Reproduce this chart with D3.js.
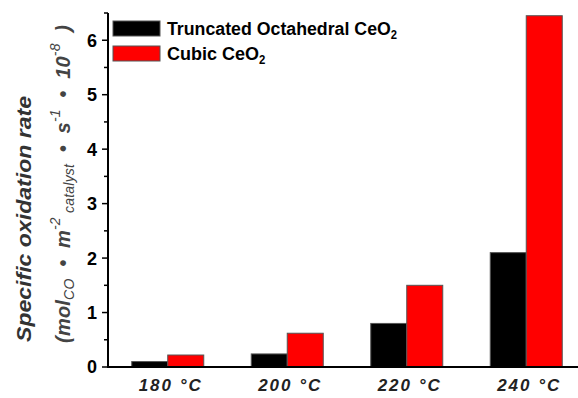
<!DOCTYPE html>
<html>
<head>
<meta charset="utf-8">
<script src="https://cdn.jsdelivr.net/npm/d3@7"></script>
<style>
  body { margin: 0; background: #fff; }
  svg { display: block; font-family: "Liberation Sans", Arial, sans-serif; }
</style>
</head>
<body>
<svg id="chart"></svg>
<script>
const categories = ["180 °C", "200 °C", "220 °C", "240 °C"];
const seriesNames = ["Truncated Octahedral CeO", "Cubic CeO"];
const seriesColors = ["#000000", "#ff0000"];
const truncated = [0.10, 0.24, 0.80, 2.10];
const cubic = [0.22, 0.62, 1.50, 6.45];
const yTicks = [0, 1, 2, 3, 4, 5, 6];

const w = 578;
const h = 398;
const padLeft = 108;
const padBottom = 367;
const padTop = 13;

const svg = d3.select("#chart").attr("width", w).attr("height", h);

const x = d3.scaleBand().domain(categories).range([padLeft, padLeft + 4 * 119.5]).paddingInner(0).paddingOuter(0);
const y = d3.scaleLinear().domain([0, 6.5]).range([padBottom, padTop]);
const barW = 36;

const rows = categories.map((c, i) => ({ cat: c, vals: [truncated[i], cubic[i]] }));

// bars
rows.forEach((r) => {
  r.vals.forEach((v, k) => {
    const cx = x(r.cat) + x.bandwidth() / 2;
    svg.append("rect")
      .attr("x", cx - barW + k * barW)
      .attr("y", y(v))
      .attr("width", barW)
      .attr("height", y(0) - y(v))
      .attr("fill", seriesColors[k])
      .attr("stroke", "#555")
      .attr("stroke-width", 1);
  });
});

// y axis
const yAxis = svg.append("g").attr("transform", `translate(${padLeft},0)`);
yAxis.append("line").attr("x1", 0).attr("x2", 0).attr("y1", padTop).attr("y2", padBottom)
  .attr("stroke", "#000").attr("stroke-width", 2);
yAxis.selectAll(".maj").data(yTicks).enter().append("line")
  .attr("x1", -6).attr("x2", 0).attr("y1", (d) => y(d)).attr("y2", (d) => y(d))
  .attr("stroke", "#000").attr("stroke-width", 1.5);
yAxis.selectAll(".min").data(yTicks.map((d) => d + 0.5)).enter().append("line")
  .attr("x1", -4).attr("x2", 0).attr("y1", (d) => y(d)).attr("y2", (d) => y(d))
  .attr("stroke", "#000").attr("stroke-width", 1.5);
yAxis.selectAll(".lab").data(yTicks).enter().append("text")
  .attr("x", -11).attr("y", (d) => y(d)).attr("dy", "0.36em")
  .attr("text-anchor", "end").attr("font-size", 18).attr("font-weight", "bold")
  .text((d) => d);

// x axis
svg.append("line").attr("x1", padLeft - 1).attr("x2", w).attr("y1", padBottom).attr("y2", padBottom)
  .attr("stroke", "#000").attr("stroke-width", 2);
svg.selectAll(".xl").data(categories).enter().append("text")
  .attr("x", (d) => x(d) + x.bandwidth() / 2 + 3)
  .attr("y", 391)
  .attr("text-anchor", "middle").attr("font-size", 17)
  .attr("font-weight", "bold").attr("font-style", "italic").attr("fill", "#222")
  .attr("letter-spacing", 2)
  .text((d) => d);

// legend
const legendLen = [224, 92];
seriesNames.forEach((n, i) => {
  const ly = 21 + i * 25;
  svg.append("rect").attr("x", 113).attr("y", ly).attr("width", 47).attr("height", 15)
    .attr("fill", seriesColors[i]).attr("stroke", "#555");
  const t = svg.append("text").attr("font-size", 19).attr("font-weight", "bold");
  const main = t.append("tspan").text(n);
  t.append("tspan").attr("font-size", 12).attr("dy", 4).text("2");
  const sx = legendLen[i] / main.node().getComputedTextLength();
  t.attr("transform", `translate(167,${ly + 14}) scale(${sx},1)`);
});

// y label
const yl = svg.append("g");
yl.append("text")
  .attr("transform", "translate(31,219) rotate(-90)")
  .attr("text-anchor", "middle").attr("font-size", 21)
  .attr("font-weight", "bold").attr("font-style", "italic").attr("fill", "#333")
  .attr("textLength", 246).attr("lengthAdjust", "spacingAndGlyphs")
  .text("Specific oxidation rate");

const t2 = yl.append("text")
  .attr("transform", "translate(70,184) rotate(-90)")
  .attr("text-anchor", "middle").attr("font-size", 20)
  .attr("font-weight", "bold").attr("font-style", "italic").attr("fill", "#444")
  .attr("textLength", 318).attr("lengthAdjust", "spacing");
const parts = [
  ["(mol", 0, 20, "bold"], ["CO", 4, 14, "normal"], ["  •  m", -4, 20, "bold"], ["-2", -10, 14, "normal"],
  [" catalyst", 14, 14, "normal"], ["  •  s", -4, 20, "bold"], ["-1", -10, 14, "normal"],
  ["  •  10", 10, 20, "bold"], ["-8", -10, 14, "normal"], ["  )", 10, 20, "bold"]
];
parts.forEach((p) => {
  t2.append("tspan").attr("dy", p[1]).attr("font-size", p[2]).attr("font-weight", p[3])
    .style("white-space", "pre").text(p[0]);
});
</script>
</body>
</html>
